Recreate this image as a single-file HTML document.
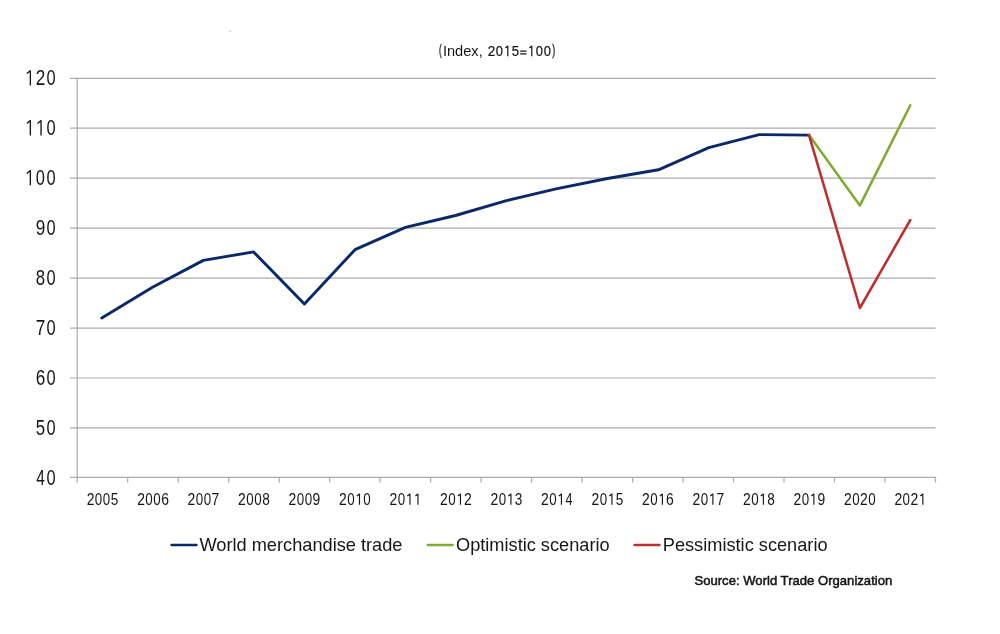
<!DOCTYPE html>
<html><head><meta charset="utf-8"><style>
html,body{margin:0;padding:0;background:#fff;width:1000px;height:634px;overflow:hidden}
svg{position:absolute;left:0;top:0;will-change:transform}
text{font-family:"Liberation Sans", sans-serif;fill:#161616}
</style></head><body>
<svg width="1000" height="634" viewBox="0 0 1000 634">
<line x1="70" y1="427.9" x2="935.5" y2="427.9" stroke="#ababab" stroke-width="1.2"/>
<line x1="70" y1="378.0" x2="935.5" y2="378.0" stroke="#ababab" stroke-width="1.2"/>
<line x1="70" y1="328.1" x2="935.5" y2="328.1" stroke="#ababab" stroke-width="1.2"/>
<line x1="70" y1="278.1" x2="935.5" y2="278.1" stroke="#ababab" stroke-width="1.2"/>
<line x1="70" y1="228.1" x2="935.5" y2="228.1" stroke="#ababab" stroke-width="1.2"/>
<line x1="70" y1="178.2" x2="935.5" y2="178.2" stroke="#ababab" stroke-width="1.2"/>
<line x1="70" y1="128.2" x2="935.5" y2="128.2" stroke="#ababab" stroke-width="1.2"/>
<line x1="70" y1="78.3" x2="935.5" y2="78.3" stroke="#ababab" stroke-width="1.2"/>
<line x1="70" y1="477.4" x2="936.1" y2="477.4" stroke="#ababab" stroke-width="1.2"/>
<line x1="77.2" y1="77.7" x2="77.2" y2="482.4" stroke="#ababab" stroke-width="1.2"/>
<line x1="127.7" y1="477.9" x2="127.7" y2="482.4" stroke="#ababab" stroke-width="1.2"/>
<line x1="178.2" y1="477.9" x2="178.2" y2="482.4" stroke="#ababab" stroke-width="1.2"/>
<line x1="228.7" y1="477.9" x2="228.7" y2="482.4" stroke="#ababab" stroke-width="1.2"/>
<line x1="279.2" y1="477.9" x2="279.2" y2="482.4" stroke="#ababab" stroke-width="1.2"/>
<line x1="329.6" y1="477.9" x2="329.6" y2="482.4" stroke="#ababab" stroke-width="1.2"/>
<line x1="380.1" y1="477.9" x2="380.1" y2="482.4" stroke="#ababab" stroke-width="1.2"/>
<line x1="430.6" y1="477.9" x2="430.6" y2="482.4" stroke="#ababab" stroke-width="1.2"/>
<line x1="481.1" y1="477.9" x2="481.1" y2="482.4" stroke="#ababab" stroke-width="1.2"/>
<line x1="531.6" y1="477.9" x2="531.6" y2="482.4" stroke="#ababab" stroke-width="1.2"/>
<line x1="582.1" y1="477.9" x2="582.1" y2="482.4" stroke="#ababab" stroke-width="1.2"/>
<line x1="632.6" y1="477.9" x2="632.6" y2="482.4" stroke="#ababab" stroke-width="1.2"/>
<line x1="683.1" y1="477.9" x2="683.1" y2="482.4" stroke="#ababab" stroke-width="1.2"/>
<line x1="733.5" y1="477.9" x2="733.5" y2="482.4" stroke="#ababab" stroke-width="1.2"/>
<line x1="784.0" y1="477.9" x2="784.0" y2="482.4" stroke="#ababab" stroke-width="1.2"/>
<line x1="834.5" y1="477.9" x2="834.5" y2="482.4" stroke="#ababab" stroke-width="1.2"/>
<line x1="885.0" y1="477.9" x2="885.0" y2="482.4" stroke="#ababab" stroke-width="1.2"/>
<line x1="935.5" y1="477.9" x2="935.5" y2="482.4" stroke="#ababab" stroke-width="1.2"/>
<text transform="translate(36.19,485.05) scale(0.7134,1)" font-size="21.71">4</text>
<text transform="translate(46.54,485.05) scale(0.7579,1)" font-size="21.71">0</text>
<text transform="translate(35.83,435.10) scale(0.7741,1)" font-size="21.71">5</text>
<text transform="translate(46.54,435.10) scale(0.7579,1)" font-size="21.71">0</text>
<text transform="translate(35.64,385.15) scale(0.7909,1)" font-size="21.71">6</text>
<text transform="translate(46.54,385.15) scale(0.7579,1)" font-size="21.71">0</text>
<text transform="translate(35.64,335.20) scale(0.7909,1)" font-size="21.71">7</text>
<text transform="translate(46.54,335.20) scale(0.7579,1)" font-size="21.71">0</text>
<text transform="translate(35.83,285.25) scale(0.7741,1)" font-size="21.71">8</text>
<text transform="translate(46.54,285.25) scale(0.7579,1)" font-size="21.71">0</text>
<text transform="translate(35.64,235.30) scale(0.7909,1)" font-size="21.71">9</text>
<text transform="translate(46.54,235.30) scale(0.7579,1)" font-size="21.71">0</text>
<path d="M30.35,185.35V170.55L26.80,173.49" fill="none" stroke="#161616" stroke-width="1.35" stroke-linejoin="round"/>
<text transform="translate(35.84,185.35) scale(0.7579,1)" font-size="21.71">0</text>
<text transform="translate(46.54,185.35) scale(0.7579,1)" font-size="21.71">0</text>
<path d="M30.35,135.40V120.60L26.80,123.54" fill="none" stroke="#161616" stroke-width="1.35" stroke-linejoin="round"/>
<path d="M41.05,135.40V120.60L37.50,123.54" fill="none" stroke="#161616" stroke-width="1.35" stroke-linejoin="round"/>
<text transform="translate(46.54,135.40) scale(0.7579,1)" font-size="21.71">0</text>
<path d="M30.35,85.45V70.65L26.80,73.59" fill="none" stroke="#161616" stroke-width="1.35" stroke-linejoin="round"/>
<text transform="translate(35.64,85.45) scale(0.7909,1)" font-size="21.71">2</text>
<text transform="translate(46.54,85.45) scale(0.7579,1)" font-size="21.71">0</text>
<text transform="translate(86.65,504.70) scale(0.8774,1)" font-size="15.86">2</text>
<text transform="translate(94.81,504.70) scale(0.8408,1)" font-size="15.86">0</text>
<text transform="translate(102.81,504.70) scale(0.8408,1)" font-size="15.86">0</text>
<text transform="translate(110.80,504.70) scale(0.8587,1)" font-size="15.86">5</text>
<text transform="translate(137.14,504.70) scale(0.8774,1)" font-size="15.86">2</text>
<text transform="translate(145.30,504.70) scale(0.8408,1)" font-size="15.86">0</text>
<text transform="translate(153.30,504.70) scale(0.8408,1)" font-size="15.86">0</text>
<text transform="translate(161.14,504.70) scale(0.8774,1)" font-size="15.86">6</text>
<text transform="translate(187.62,504.70) scale(0.8774,1)" font-size="15.86">2</text>
<text transform="translate(195.79,504.70) scale(0.8408,1)" font-size="15.86">0</text>
<text transform="translate(203.79,504.70) scale(0.8408,1)" font-size="15.86">0</text>
<text transform="translate(211.62,504.70) scale(0.8774,1)" font-size="15.86">7</text>
<text transform="translate(238.11,504.70) scale(0.8774,1)" font-size="15.86">2</text>
<text transform="translate(246.28,504.70) scale(0.8408,1)" font-size="15.86">0</text>
<text transform="translate(254.28,504.70) scale(0.8408,1)" font-size="15.86">0</text>
<text transform="translate(262.26,504.70) scale(0.8587,1)" font-size="15.86">8</text>
<text transform="translate(288.60,504.70) scale(0.8774,1)" font-size="15.86">2</text>
<text transform="translate(296.76,504.70) scale(0.8408,1)" font-size="15.86">0</text>
<text transform="translate(304.76,504.70) scale(0.8408,1)" font-size="15.86">0</text>
<text transform="translate(312.60,504.70) scale(0.8774,1)" font-size="15.86">9</text>
<text transform="translate(339.09,504.70) scale(0.8774,1)" font-size="15.86">2</text>
<text transform="translate(347.25,504.70) scale(0.8408,1)" font-size="15.86">0</text>
<path d="M359.49,504.70V494.00L356.90,496.04" fill="none" stroke="#161616" stroke-width="1.15" stroke-linejoin="round"/>
<text transform="translate(363.25,504.70) scale(0.8408,1)" font-size="15.86">0</text>
<text transform="translate(389.58,504.70) scale(0.8774,1)" font-size="15.86">2</text>
<text transform="translate(397.74,504.70) scale(0.8408,1)" font-size="15.86">0</text>
<path d="M409.97,504.70V494.00L407.38,496.04" fill="none" stroke="#161616" stroke-width="1.15" stroke-linejoin="round"/>
<path d="M417.97,504.70V494.00L415.38,496.04" fill="none" stroke="#161616" stroke-width="1.15" stroke-linejoin="round"/>
<text transform="translate(440.07,504.70) scale(0.8774,1)" font-size="15.86">2</text>
<text transform="translate(448.23,504.70) scale(0.8408,1)" font-size="15.86">0</text>
<path d="M460.46,504.70V494.00L457.87,496.04" fill="none" stroke="#161616" stroke-width="1.15" stroke-linejoin="round"/>
<text transform="translate(464.07,504.70) scale(0.8774,1)" font-size="15.86">2</text>
<text transform="translate(490.55,504.70) scale(0.8774,1)" font-size="15.86">2</text>
<text transform="translate(498.72,504.70) scale(0.8408,1)" font-size="15.86">0</text>
<path d="M510.95,504.70V494.00L508.36,496.04" fill="none" stroke="#161616" stroke-width="1.15" stroke-linejoin="round"/>
<text transform="translate(514.71,504.70) scale(0.8587,1)" font-size="15.86">3</text>
<text transform="translate(541.04,504.70) scale(0.8774,1)" font-size="15.86">2</text>
<text transform="translate(549.20,504.70) scale(0.8408,1)" font-size="15.86">0</text>
<path d="M561.44,504.70V494.00L558.85,496.04" fill="none" stroke="#161616" stroke-width="1.15" stroke-linejoin="round"/>
<text transform="translate(565.49,504.70) scale(0.7914,1)" font-size="15.86">4</text>
<text transform="translate(591.53,504.70) scale(0.8774,1)" font-size="15.86">2</text>
<text transform="translate(599.69,504.70) scale(0.8408,1)" font-size="15.86">0</text>
<path d="M611.93,504.70V494.00L609.34,496.04" fill="none" stroke="#161616" stroke-width="1.15" stroke-linejoin="round"/>
<text transform="translate(615.68,504.70) scale(0.8587,1)" font-size="15.86">5</text>
<text transform="translate(642.02,504.70) scale(0.8774,1)" font-size="15.86">2</text>
<text transform="translate(650.18,504.70) scale(0.8408,1)" font-size="15.86">0</text>
<path d="M662.41,504.70V494.00L659.82,496.04" fill="none" stroke="#161616" stroke-width="1.15" stroke-linejoin="round"/>
<text transform="translate(666.02,504.70) scale(0.8774,1)" font-size="15.86">6</text>
<text transform="translate(692.51,504.70) scale(0.8774,1)" font-size="15.86">2</text>
<text transform="translate(700.67,504.70) scale(0.8408,1)" font-size="15.86">0</text>
<path d="M712.90,504.70V494.00L710.31,496.04" fill="none" stroke="#161616" stroke-width="1.15" stroke-linejoin="round"/>
<text transform="translate(716.51,504.70) scale(0.8774,1)" font-size="15.86">7</text>
<text transform="translate(743.00,504.70) scale(0.8774,1)" font-size="15.86">2</text>
<text transform="translate(751.16,504.70) scale(0.8408,1)" font-size="15.86">0</text>
<path d="M763.39,504.70V494.00L760.80,496.04" fill="none" stroke="#161616" stroke-width="1.15" stroke-linejoin="round"/>
<text transform="translate(767.15,504.70) scale(0.8587,1)" font-size="15.86">8</text>
<text transform="translate(793.48,504.70) scale(0.8774,1)" font-size="15.86">2</text>
<text transform="translate(801.65,504.70) scale(0.8408,1)" font-size="15.86">0</text>
<path d="M813.88,504.70V494.00L811.29,496.04" fill="none" stroke="#161616" stroke-width="1.15" stroke-linejoin="round"/>
<text transform="translate(817.48,504.70) scale(0.8774,1)" font-size="15.86">9</text>
<text transform="translate(843.97,504.70) scale(0.8774,1)" font-size="15.86">2</text>
<text transform="translate(852.13,504.70) scale(0.8408,1)" font-size="15.86">0</text>
<text transform="translate(859.97,504.70) scale(0.8774,1)" font-size="15.86">2</text>
<text transform="translate(868.13,504.70) scale(0.8408,1)" font-size="15.86">0</text>
<text transform="translate(894.46,504.70) scale(0.8774,1)" font-size="15.86">2</text>
<text transform="translate(902.62,504.70) scale(0.8408,1)" font-size="15.86">0</text>
<text transform="translate(910.46,504.70) scale(0.8774,1)" font-size="15.86">2</text>
<path d="M922.86,504.70V494.00L920.27,496.04" fill="none" stroke="#161616" stroke-width="1.15" stroke-linejoin="round"/>
<text transform="translate(439.02,54.84) scale(0.5648,1)" font-size="14.3" stroke="#161616" stroke-width="0.35">(</text>
<text transform="translate(442.88,56.30) scale(0.9560,1)" font-size="15.3">Index,</text>
<text transform="translate(487.63,56.30) scale(0.8818,1)" font-size="15.29" stroke="#161616" stroke-width="0.25">2</text>
<text transform="translate(495.78,56.30) scale(0.8450,1)" font-size="15.29" stroke="#161616" stroke-width="0.25">0</text>
<path d="M507.80,56.30V46.00L505.30,47.95" fill="none" stroke="#161616" stroke-width="1.2" stroke-linejoin="round"/>
<text transform="translate(511.77,56.30) scale(0.8630,1)" font-size="15.29" stroke="#161616" stroke-width="0.25">5</text>
<path d="M520.2,51.2H526.5M520.2,53.9H526.5" stroke="#161616" stroke-width="1.25" fill="none"/>
<path d="M531.80,56.30V46.00L529.30,47.95" fill="none" stroke="#161616" stroke-width="1.2" stroke-linejoin="round"/>
<text transform="translate(535.78,56.30) scale(0.8450,1)" font-size="15.29" stroke="#161616" stroke-width="0.25">0</text>
<text transform="translate(543.78,56.30) scale(0.8450,1)" font-size="15.29" stroke="#161616" stroke-width="0.25">0</text>
<text transform="translate(552.21,54.84) scale(0.6186,1)" font-size="14.3" stroke="#161616" stroke-width="0.35">)</text>
<ellipse cx="230" cy="31.3" rx="1.6" ry="0.8" fill="#d8d8d8"/>
<polyline points="101.8,318.0 152.5,287.3 203.3,260.4 253.6,251.9 304.4,304.0 355.0,249.7 405.4,227.3 455.5,215.5 505.6,200.9 556.0,188.9 607.5,178.5 658.4,169.8 708.8,147.7 759.2,134.6 809.0,135.1" fill="none" stroke="#0b2869" stroke-width="2.9" stroke-linejoin="round" stroke-linecap="round"/>
<polyline points="809.0,135.1 859.9,205.4 910.3,105.3" fill="none" stroke="#80ab32" stroke-width="2.55" stroke-linejoin="round" stroke-linecap="round"/>
<polyline points="809.0,135.1 859.9,308.0 910.3,220.0" fill="none" stroke="#bc3030" stroke-width="2.55" stroke-linejoin="round" stroke-linecap="round"/>
<line x1="171.6" y1="545" x2="196.4" y2="545" stroke="#0b2869" stroke-width="2.6" stroke-linecap="round"/>
<text transform="translate(199.42,550.60) scale(1.0177,1)" font-size="17.9">World merchandise trade</text>
<line x1="427.8" y1="545" x2="452.6" y2="545" stroke="#80ab32" stroke-width="2.6" stroke-linecap="round"/>
<text transform="translate(455.99,550.60) scale(1.0156,1)" font-size="17.9">Optimistic scenario</text>
<line x1="634.6" y1="545" x2="659.4" y2="545" stroke="#bc3030" stroke-width="2.6" stroke-linecap="round"/>
<text transform="translate(662.74,550.60) scale(1.0167,1)" font-size="17.9">Pessimistic scenario</text>
<text transform="translate(694.44,585.00) scale(1.0084,1)" font-size="13.0" style="fill:#151515" stroke="#111" stroke-width="0.5">Source: World Trade Organization</text>
</svg></body></html>
